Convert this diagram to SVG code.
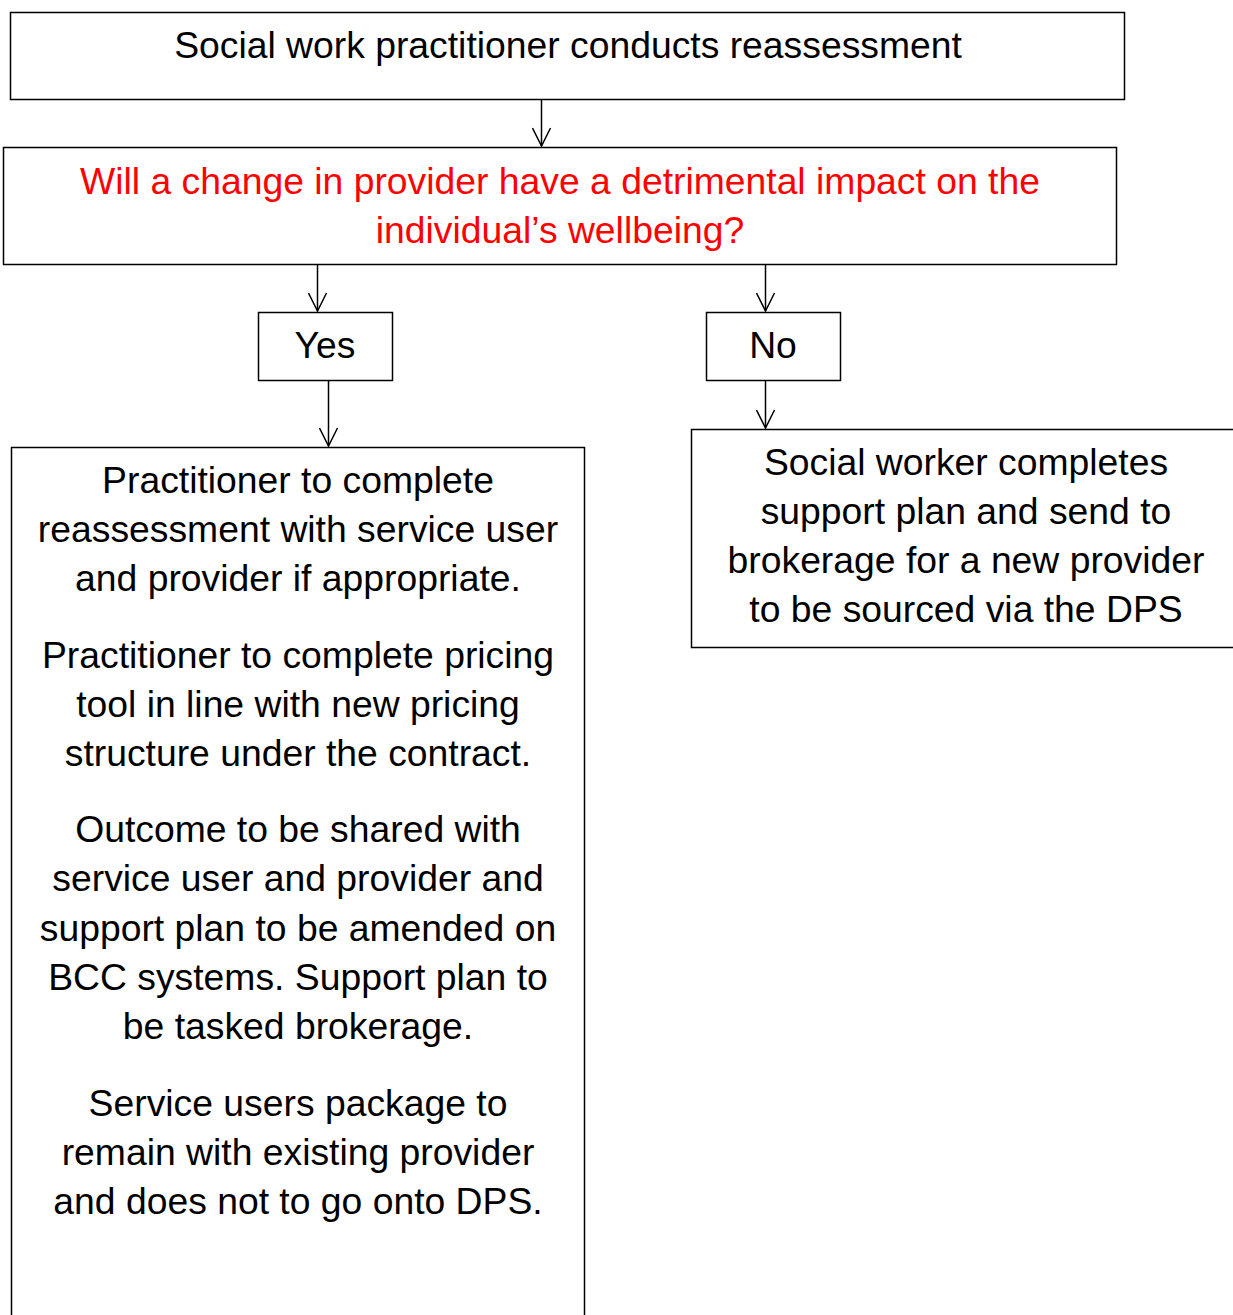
<svg xmlns="http://www.w3.org/2000/svg" width="1233" height="1315" viewBox="0 0 1233 1315">
<style>
.box{fill:#fff;stroke:#000;stroke-width:1.5}
.t{font-family:"Liberation Sans",Arial,sans-serif;font-size:37.3px;fill:#000;text-anchor:middle}
.red{fill:#ff0000}
.c{stroke:#000;stroke-width:1.5;fill:none}
</style>
<defs>
<marker id="ah" markerWidth="20" markerHeight="20" refX="19" refY="10" orient="auto" markerUnits="userSpaceOnUse" viewBox="0 0 20 20">
<path d="M1,1 L19,10 L1,19" fill="none" stroke="#000" stroke-width="1.5"/>
</marker>
</defs>
<rect width="1233" height="1315" fill="#fff"/>
<g id="n1">
<rect class="box" x="10.5" y="12.5" width="1114" height="87"/>
<text class="t" x="568" y="58">Social work practitioner conducts reassessment</text>
</g>
<g id="n2">
<rect class="box" x="3.5" y="147.5" width="1113" height="117"/>
<text class="t red" x="560" y="194">Will a change in provider have a detrimental impact on the</text>
<text class="t red" x="560" y="243">individual’s wellbeing?</text>
</g>
<g id="yes">
<rect class="box" x="258.5" y="312.5" width="134" height="68"/>
<text class="t" x="325" y="358">Yes</text>
</g>
<g id="no">
<rect class="box" x="706.5" y="312.5" width="134" height="68"/>
<text class="t" x="773" y="358">No</text>
</g>
<g id="left">
<rect class="box" x="11.5" y="447.5" width="573" height="880"/>
<text class="t" x="298" y="493">Practitioner to complete</text>
<text class="t" x="298" y="542">reassessment with service user</text>
<text class="t" x="298" y="591">and provider if appropriate.</text>
<text class="t" x="298" y="668">Practitioner to complete pricing</text>
<text class="t" x="298" y="717">tool in line with new pricing</text>
<text class="t" x="298" y="766">structure under the contract.</text>
<text class="t" x="298" y="842">Outcome to be shared with</text>
<text class="t" x="298" y="891">service user and provider and</text>
<text class="t" x="298" y="941">support plan to be amended on</text>
<text class="t" x="298" y="990">BCC systems. Support plan to</text>
<text class="t" x="298" y="1039">be tasked brokerage.</text>
<text class="t" x="298" y="1116">Service users package to</text>
<text class="t" x="298" y="1165">remain with existing provider</text>
<text class="t" x="298" y="1214">and does not to go onto DPS.</text>
</g>
<g id="right">
<rect class="box" x="691.5" y="429.5" width="560" height="218"/>
<text class="t" x="966" y="475">Social worker completes</text>
<text class="t" x="966" y="524">support plan and send to</text>
<text class="t" x="966" y="573">brokerage for a new provider</text>
<text class="t" x="966" y="622">to be sourced via the DPS</text>
</g>
<g id="connectors">
<path class="c" d="M541.5,100 V146" marker-end="url(#ah)"/>
<path class="c" d="M317.5,265 V311" marker-end="url(#ah)"/>
<path class="c" d="M765.5,265 V311" marker-end="url(#ah)"/>
<path class="c" d="M328.5,381 V446" marker-end="url(#ah)"/>
<path class="c" d="M765.5,381 V428" marker-end="url(#ah)"/>
</g>
</svg>
